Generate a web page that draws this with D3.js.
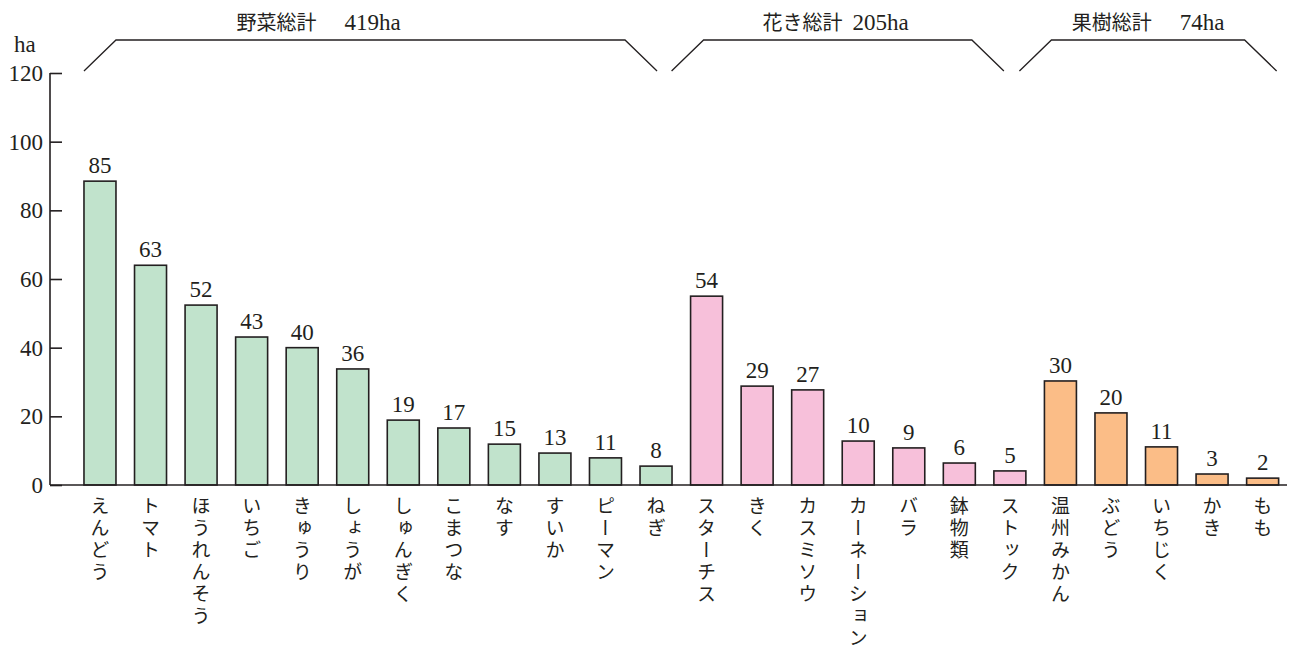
<!DOCTYPE html>
<html>
<head>
<meta charset="utf-8">
<script src="https://cdn.jsdelivr.net/npm/d3@7"></script>
<style>
  body { margin: 0; background: #fff; }
  .num { font-family: "Liberation Serif", "DejaVu Serif", serif; }
  .jp { font-family: "Noto Sans CJK JP", sans-serif; }
</style>
</head>
<body>
<div id="chart"></div>
<script>
// categories, grouped
const categories = ["えんどう", "トマト", "ほうれんそう", "いちご", "きゅうり", "しょうが",
    "しゅんぎく", "こまつな", "なす", "すいか", "ピーマン", "ねぎ",
    "スターチス", "きく", "カスミソウ", "カーネーション", "バラ", "鉢物類", "ストック",
    "温州みかん", "ぶどう", "いちじく", "かき", "もも"];
const groupOf = ["veg", "veg", "veg", "veg", "veg", "veg", "veg", "veg", "veg", "veg", "veg", "veg",
    "flower", "flower", "flower", "flower", "flower", "flower", "flower",
    "fruit", "fruit", "fruit", "fruit", "fruit"];
// printed labels (ha)
const labels = [85, 63, 52, 43, 40, 36, 19, 17, 15, 13, 11, 8,
    54, 29, 27, 10, 9, 6, 5,
    30, 20, 11, 3, 2];
// bar heights as drawn in the picture (they don't always match the printed labels)
const heights = [88.5, 64, 52.4, 43.1, 40, 33.8, 18.9, 16.6, 11.9, 9.3, 7.9, 5.5,
    55, 28.8, 27.7, 12.8, 10.8, 6.4, 4.1,
    30.3, 21, 11.1, 3.2, 2.0];
const groups = ["veg", "flower", "fruit"];
const groupTitles = ["野菜総計", "花き総計", "果樹総計"];
const groupTotals = ["419ha", "205ha", "74ha"];
const yTicks = [0, 20, 40, 60, 80, 100, 120];

const colors = { veg: "#c1e3cc", flower: "#f7c0da", fruit: "#fbbd87" };

const W = 1295, H = 654;
const svg = d3.select("#chart").append("svg")
    .attr("width", W)
    .attr("height", H);

const x = d3.scaleBand()
    .domain(categories)
    .range([74.7, 1287.9])
    .paddingInner(0.367)
    .paddingOuter(0.1835);

const y = d3.scaleLinear()
    .domain([0, 120])
    .range([485, 73]);

// y axis
const yAxis = svg.append("g")
    .attr("transform", "translate(50,0)")
    .call(d3.axisRight(y).tickValues(yTicks).tickSize(12).tickFormat(""));
yAxis.select(".domain").attr("d", `M0,${y(120)}V${y(0)}`).attr("stroke", "#231f20").attr("stroke-width", 1.6);
yAxis.selectAll(".tick line").attr("stroke", "#231f20").attr("stroke-width", 1.6);

svg.append("g").selectAll("text")
    .data(yTicks)
    .enter().append("text")
    .attr("class", "num")
    .attr("x", 43)
    .attr("y", d => y(d) + 8)
    .attr("text-anchor", "end")
    .attr("font-size", 23)
    .attr("fill", "#231f20")
    .text(d => d);

svg.append("text")
    .attr("class", "num")
    .attr("x", 14)
    .attr("y", 52)
    .attr("font-size", 23)
    .attr("fill", "#231f20")
    .text("ha");

// bars
svg.append("g").selectAll("rect")
    .data(categories)
    .enter().append("rect")
    .attr("x", d => x(d))
    .attr("y", (d, i) => y(heights[i]))
    .attr("width", x.bandwidth())
    .attr("height", (d, i) => y(0) - y(heights[i]))
    .attr("fill", (d, i) => colors[groupOf[i]])
    .attr("stroke", "#231f20")
    .attr("stroke-width", 1.6);

// baseline
svg.append("line")
    .attr("x1", 50).attr("x2", 1287)
    .attr("y1", y(0)).attr("y2", y(0))
    .attr("stroke", "#231f20")
    .attr("stroke-width", 1.6);

// value labels
svg.append("g").selectAll("text")
    .data(categories)
    .enter().append("text")
    .attr("class", "num")
    .attr("x", d => x(d) + x.bandwidth() / 2)
    .attr("y", (d, i) => y(heights[i]) - 8)
    .attr("text-anchor", "middle")
    .attr("font-size", 23)
    .attr("fill", "#231f20")
    .text((d, i) => labels[i]);

// category names, vertical
svg.append("g").selectAll("text")
    .data(categories)
    .enter().append("text")
    .attr("class", "jp")
    .attr("x", d => x(d) + x.bandwidth() / 2)
    .attr("y", 496)
    .attr("font-size", 19)
    .attr("letter-spacing", 3)
    .attr("fill", "#231f20")
    .style("writing-mode", "vertical-rl")
    .style("text-orientation", "upright")
    .text(d => d);

// group brackets
const bracketPad = [[0, -15], [-19, -22], [-25, -2]];
const titleShift = [-52, -2, 0];
groups.forEach((g, gi) => {
    const members = categories.filter((c, i) => groupOf[i] === g);
    const x0 = x(members[0]) + bracketPad[gi][0];
    const x1 = x(members[members.length - 1]) + x.bandwidth() + bracketPad[gi][1];
    svg.append("path")
        .attr("d", `M${x0},71L${x0 + 32},40L${x1 - 32},40L${x1},71`)
        .attr("fill", "none")
        .attr("stroke", "#231f20")
        .attr("stroke-width", 1.3);
    const t = svg.append("text")
        .attr("x", (x0 + x1) / 2 + titleShift[gi])
        .attr("y", 30)
        .attr("text-anchor", "middle")
        .attr("font-size", 20)
        .attr("fill", "#231f20");
    t.append("tspan").attr("class", "jp").text(groupTitles[gi]);
    t.append("tspan").attr("class", "num").attr("font-size", 23)
        .attr("dx", gi === 1 ? 10 : 28).text(groupTotals[gi]);
});
</script>
</body>
</html>
